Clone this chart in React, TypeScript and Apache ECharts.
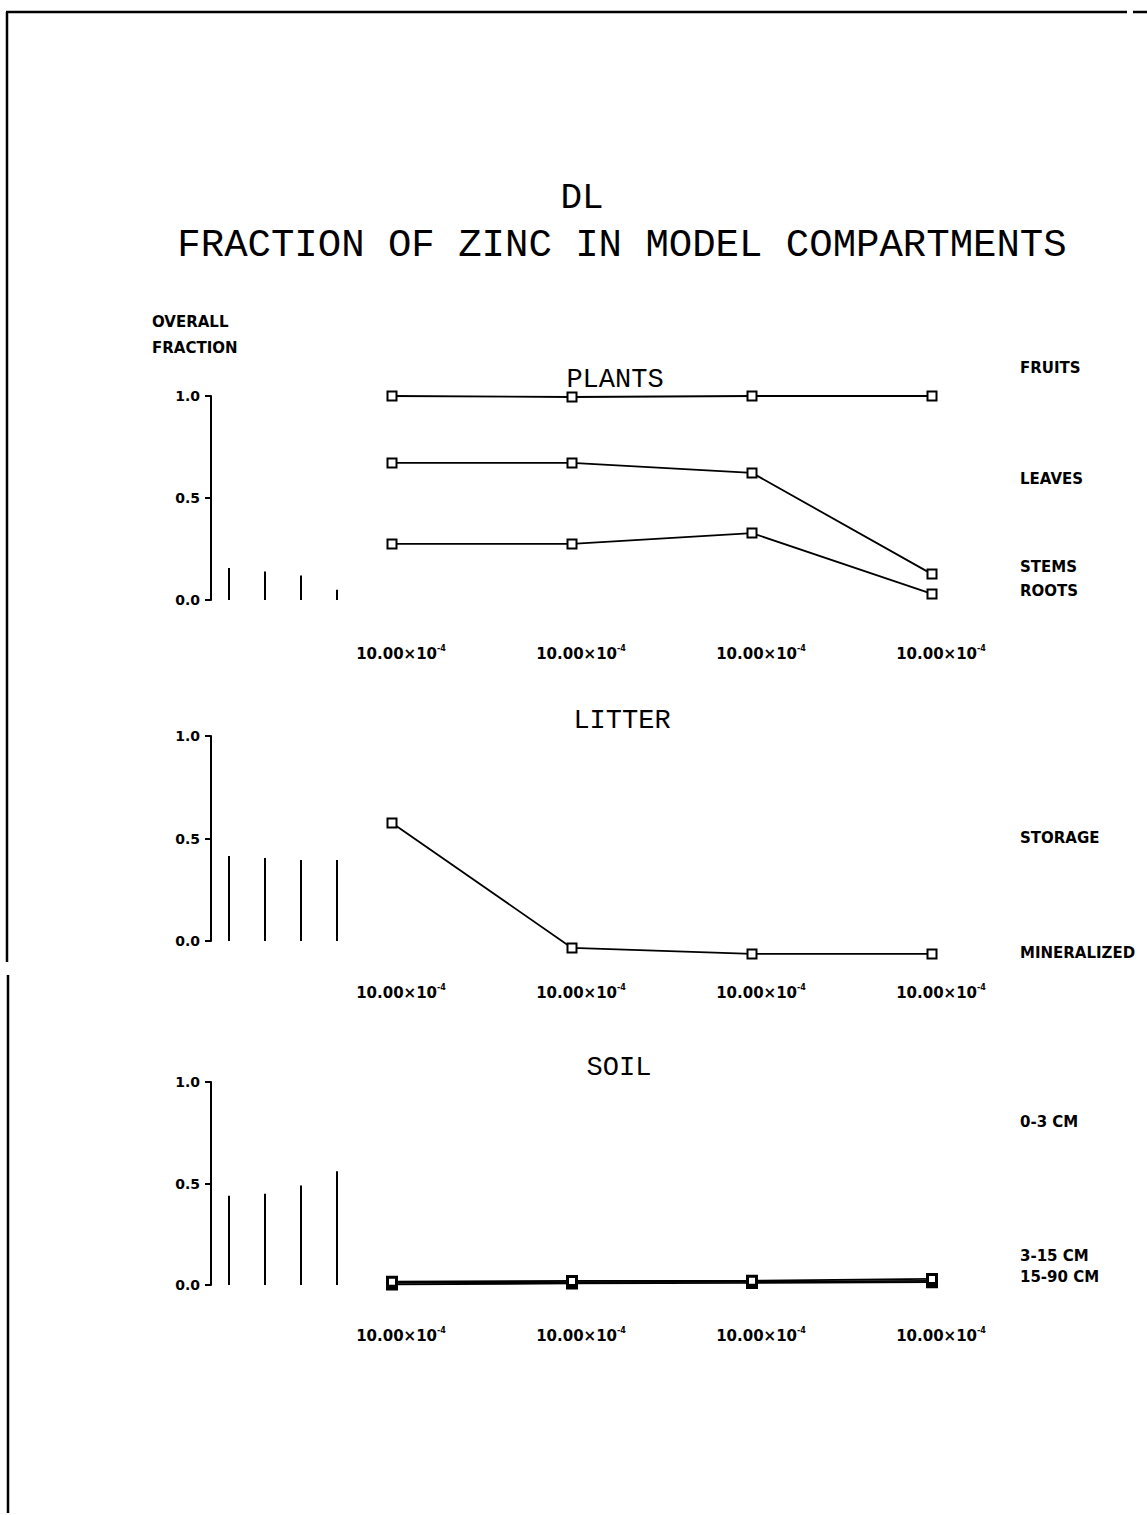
import { useEffect, useRef } from "react";
import * as echarts from "echarts";

// Tick labels along the bottom of each panel (mantissa + exponent)
const stepMantissa = "10.00×10";
const stepExponents = ["-4", "-4", "-4", "-4"];
const steps = ["s1", "s2", "s3", "s4"];

// Overall fraction bars (left of each panel)
const plantsOverall = [0.157, 0.14, 0.12, 0.05];
const litterOverall = [0.415, 0.405, 0.395, 0.395];
const soilOverall = [0.44, 0.45, 0.49, 0.56];

// Cumulative fractions within each compartment
const fruits = [1.0, 0.995, 1.0, 1.0];
const leaves = [0.672, 0.672, 0.623, 0.127];
const stems = [0.275, 0.275, 0.328, 0.03];
const litterStorage = [0.576, -0.034, -0.063, -0.063];
const soilDeep = [0.003, 0.008, 0.01, 0.014];
const soilMid = [0.01, 0.014, 0.016, 0.02];
const soilTop = [0.016, 0.02, 0.021, 0.03];

// Right-hand labels per panel
const plantsLabels = ["FRUITS", "LEAVES", "STEMS", "ROOTS"];
const litterLabels = ["STORAGE", "MINERALIZED"];
const soilLabels = ["0-3 CM", "3-15 CM", "15-90 CM"];
const panelTitles = ["PLANTS", "LITTER", "SOIL"];

const W = 1147;
const H = 1515;
const MONO = "'Liberation Mono', 'DejaVu Sans Mono', monospace";
const SANS = "'DejaVu Sans', sans-serif";

const layout = [
  { top: 396, height: 204, titleX: 615, titleY: 380, labelMargin: 44, labelYs: [368, 479, 567, 591] },
  { top: 736, height: 205, titleX: 622, titleY: 721, labelMargin: 42, labelYs: [838, 953] },
  { top: 1082, height: 203, titleX: 619, titleY: 1068, labelMargin: 41, labelYs: [1122, 1256, 1277] },
];

const overallSets = [plantsOverall, litterOverall, soilOverall];
const lineSets = [[fruits, leaves, stems], [litterStorage], [soilDeep, soilMid, soilTop]];
const labelSets = [plantsLabels, litterLabels, soilLabels];

export default function App() {
  const ref = useRef<HTMLDivElement>(null);

  useEffect(() => {
    if (!ref.current) return;
    const chart = echarts.init(ref.current, undefined, { renderer: "svg" });

    const grid: any[] = [];
    const xAxis: any[] = [];
    const yAxis: any[] = [];
    const series: any[] = [];
    const graphic: any[] = [];

    layout.forEach((p, i) => {
      const gl = i * 2;
      const gr = i * 2 + 1;
      grid.push({ left: 211, width: 144, top: p.top, height: p.height });
      grid.push({ left: 392, width: 540, top: p.top, height: p.height });

      xAxis.push({
        gridIndex: gl,
        type: "category",
        data: steps,
        show: false,
      });
      xAxis.push({
        gridIndex: gr,
        type: "category",
        data: steps,
        boundaryGap: false,
        axisLine: { show: false },
        axisTick: { show: false },
        axisLabel: {
          margin: p.labelMargin,
          padding: [0, 0, 0, 18],
          formatter: (_v: string, idx: number) =>
            `{m|${stepMantissa}}{e|${stepExponents[idx]}}`,
          rich: {
            m: { fontFamily: SANS, fontWeight: "bold", fontSize: 15, color: "#000", lineHeight: 20 },
            e: { fontFamily: SANS, fontWeight: "bold", fontSize: 8, color: "#000", verticalAlign: "top", lineHeight: 20 },
          },
        },
      });

      yAxis.push({
        gridIndex: gl,
        type: "value",
        min: 0,
        max: 1,
        interval: 0.5,
        splitLine: { show: false },
        axisLine: { show: true, lineStyle: { color: "#000", width: 2 } },
        axisTick: { show: true, length: 6, lineStyle: { color: "#000", width: 2 } },
        axisLabel: {
          margin: 11,
          color: "#000",
          fontFamily: SANS,
          fontWeight: "bold",
          fontSize: 14,
          formatter: (v: number) => v.toFixed(1),
        },
      });
      yAxis.push({
        gridIndex: gr,
        type: "value",
        min: 0,
        max: 1,
        show: false,
        splitLine: { show: false },
      });

      series.push({
        type: "bar",
        xAxisIndex: gl,
        yAxisIndex: gl,
        data: overallSets[i],
        barWidth: 2,
        itemStyle: { color: "#000" },
        silent: true,
      });

      lineSets[i].forEach((vals) => {
        series.push({
          type: "line",
          xAxisIndex: gr,
          yAxisIndex: gr,
          data: vals,
          clip: false,
          symbol: "rect",
          symbolSize: 9,
          showAllSymbol: true,
          lineStyle: { color: "#000", width: 1.8 },
          itemStyle: { color: "#fff", borderColor: "#000", borderWidth: i === 2 ? 3 : 2 },
          silent: true,
        });
      });

      graphic.push({
        type: "text",
        x: p.titleX,
        y: p.titleY,
        style: {
          text: panelTitles[i],
          font: `27px ${MONO}`,
          fill: "#000",
          textAlign: "center",
          textVerticalAlign: "middle",
        },
      });

      labelSets[i].forEach((t, k) => {
        graphic.push({
          type: "text",
          x: 1020,
          y: p.labelYs[k],
          style: {
            text: t,
            font: `bold 15px ${SANS}`,
            fill: "#000",
            textAlign: "left",
            textVerticalAlign: "middle",
          },
        });
      });
    });

    // Headings
    graphic.push(
      {
        type: "text",
        x: 582,
        y: 198,
        style: { text: "DL", font: `36px ${MONO}`, fill: "#000", textAlign: "center", textVerticalAlign: "middle" },
      },
      {
        type: "text",
        x: 622,
        y: 246,
        style: {
          text: "FRACTION OF ZINC IN MODEL COMPARTMENTS",
          font: `39px ${MONO}`,
          fill: "#000",
          textAlign: "center",
          textVerticalAlign: "middle",
        },
      },
      {
        type: "text",
        x: 152,
        y: 322,
        style: { text: "OVERALL", font: `bold 15px ${SANS}`, fill: "#000", textAlign: "left", textVerticalAlign: "middle" },
      },
      {
        type: "text",
        x: 152,
        y: 348,
        style: { text: "FRACTION", font: `bold 15px ${SANS}`, fill: "#000", textAlign: "left", textVerticalAlign: "middle" },
      }
    );

    // Sheet border
    const border = [
      [6, 12, 1127, 12],
      [1133, 12, 1147, 12],
      [7, 12, 7, 962],
      [8, 975, 8, 1513],
    ];
    border.forEach(([x1, y1, x2, y2]) => {
      graphic.push({
        type: "line",
        shape: { x1, y1, x2, y2 },
        style: { stroke: "#000", lineWidth: 2.5 },
      });
    });

    chart.setOption({
      animation: false,
      backgroundColor: "#fff",
      grid,
      xAxis,
      yAxis,
      series,
      graphic,
    });

    return () => chart.dispose();
  }, []);

  return (
    <div
      ref={ref}
      style={{ position: "absolute", left: 0, top: 0, width: W, height: H, background: "#fff" }}
    />
  );
}
